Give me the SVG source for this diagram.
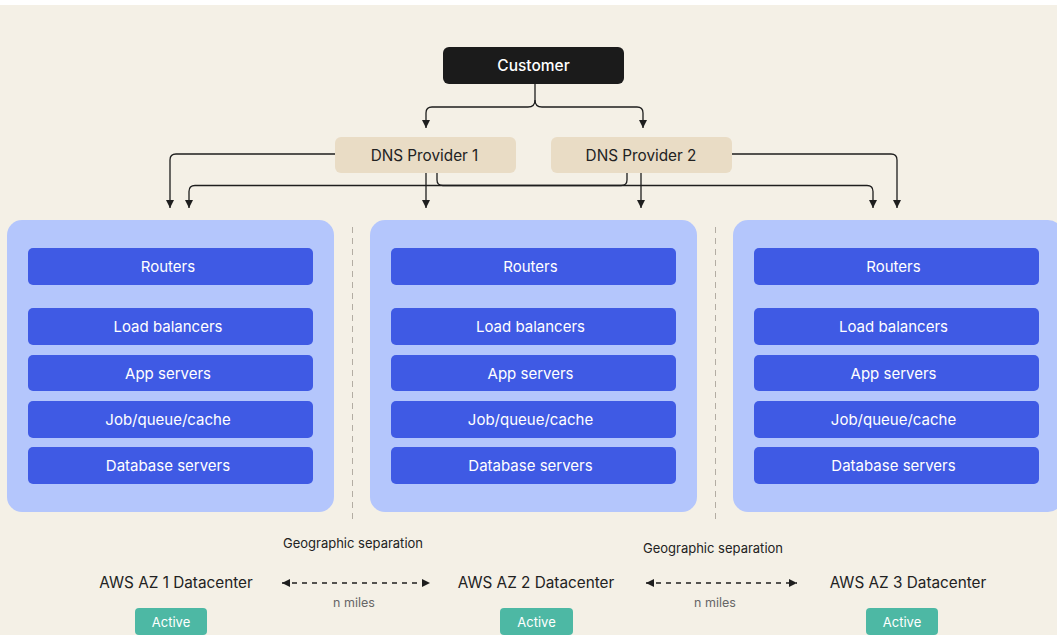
<svg xmlns="http://www.w3.org/2000/svg" width="1057" height="635" viewBox="0 0 1057 635">
<defs>
<style>
text{font-family:Inter,"Liberation Sans",sans-serif;text-anchor:middle;dominant-baseline:central}
.bar{fill:#3F5AE4}
.bt{fill:#fff;font-size:15px}
.az{fill:#B4C6FC}
.dns{fill:#E9DCC5}
.con{fill:none;stroke:#1e1e1e;stroke-width:1.3}
.lbl{fill:#222;font-size:15.3px}
.sm{fill:#222;font-size:13px}
.gray{fill:#666;font-size:12.5px}
.act{fill:#4DB8A4}
.div{stroke:#B3ADA3;stroke-width:1;stroke-dasharray:6 5}
</style>
<marker id="ah" viewBox="0 0 10 10" refX="10" refY="5" markerWidth="8" markerHeight="8" markerUnits="userSpaceOnUse" orient="auto"><path d="M0,0L10,5L0,10z" fill="#1e1e1e"/></marker>
<marker id="ah2" viewBox="0 0 10 10" refX="10" refY="5" markerWidth="8" markerHeight="8" markerUnits="userSpaceOnUse" orient="auto-start-reverse"><path d="M0,0L10,5L0,10z" fill="#1e1e1e"/></marker>
</defs>
<rect x="0" y="0" width="1057" height="635" fill="#fff"/>
<rect x="0" y="5" width="1057" height="630" fill="#F4F0E6"/>

<g id="customer"><rect x="443" y="47" width="181" height="37" rx="6" fill="#1B1B1B"/><text x="533.5" y="65.5" fill="#fff" font-size="15.5" font-weight="500">Customer</text></g>
<g id="dns1"><rect class="dns" x="335" y="137" width="181" height="36" rx="6"/><text class="lbl" x="424.5" y="155">DNS Provider 1</text></g>
<g id="dns2"><rect class="dns" x="551" y="137" width="181" height="36" rx="6"/><text class="lbl" x="641" y="155">DNS Provider 2</text></g>

<g id="az1"><rect class="az" x="7" y="220" width="327" height="292" rx="15"/>
<rect class="bar" x="28" y="248" width="285" height="37" rx="5"/><text class="bt" x="168" y="266.5">Routers</text>
<rect class="bar" x="28" y="308" width="285" height="37" rx="5"/><text class="bt" x="168" y="326.5">Load balancers</text>
<rect class="bar" x="28" y="355" width="285" height="36" rx="5"/><text class="bt" x="168" y="373">App servers</text>
<rect class="bar" x="28" y="401" width="285" height="37" rx="5"/><text class="bt" x="168" y="419.5">Job/queue/cache</text>
<rect class="bar" x="28" y="447" width="285" height="37" rx="5"/><text class="bt" x="168" y="465.5">Database servers</text>
</g>
<g id="az2"><rect class="az" x="370" y="220" width="327" height="292" rx="15"/>
<rect class="bar" x="391" y="248" width="285" height="37" rx="5"/><text class="bt" x="530.5" y="266.5">Routers</text>
<rect class="bar" x="391" y="308" width="285" height="37" rx="5"/><text class="bt" x="530.5" y="326.5">Load balancers</text>
<rect class="bar" x="391" y="355" width="285" height="36" rx="5"/><text class="bt" x="530.5" y="373">App servers</text>
<rect class="bar" x="391" y="401" width="285" height="37" rx="5"/><text class="bt" x="530.5" y="419.5">Job/queue/cache</text>
<rect class="bar" x="391" y="447" width="285" height="37" rx="5"/><text class="bt" x="530.5" y="465.5">Database servers</text>
</g>
<g id="az3"><rect class="az" x="733" y="220" width="330" height="292" rx="15"/>
<rect class="bar" x="754" y="248" width="285" height="37" rx="5"/><text class="bt" x="893.5" y="266.5">Routers</text>
<rect class="bar" x="754" y="308" width="285" height="37" rx="5"/><text class="bt" x="893.5" y="326.5">Load balancers</text>
<rect class="bar" x="754" y="355" width="285" height="36" rx="5"/><text class="bt" x="893.5" y="373">App servers</text>
<rect class="bar" x="754" y="401" width="285" height="37" rx="5"/><text class="bt" x="893.5" y="419.5">Job/queue/cache</text>
<rect class="bar" x="754" y="447" width="285" height="37" rx="5"/><text class="bt" x="893.5" y="465.5">Database servers</text>
</g>

<g id="dividers">
<line class="div" x1="352.5" y1="227" x2="352.5" y2="524"/>
<line class="div" x1="715.5" y1="227" x2="715.5" y2="524"/>
</g>

<g id="connectors">
<path class="con" d="M535,84V100Q535,107 528,107H432Q426,107 426,113V128" marker-end="url(#ah)"/>
<path class="con" d="M535,100Q535,107 542,107H637Q643,107 643,113V128" marker-end="url(#ah)"/>
<path class="con" d="M335,154H176Q170,154 170,160V208" marker-end="url(#ah)"/>
<path class="con" d="M426,173V208" marker-end="url(#ah)"/>
<path class="con" d="M437,173V180Q437,185.5 443,185.5H867Q873,185.5 873,191.5V208" marker-end="url(#ah)"/>
<path class="con" d="M627,173V180Q627,185.5 621,185.5H195Q189,185.5 189,191.5V208" marker-end="url(#ah)"/>
<path class="con" d="M641,173V208" marker-end="url(#ah)"/>
<path class="con" d="M732,154H891Q897,154 897,160V208" marker-end="url(#ah)"/>
<path class="con" d="M282,583H430" stroke-dasharray="5 5" marker-start="url(#ah2)" marker-end="url(#ah2)"/>
<path class="con" d="M646,583H797" stroke-dasharray="5 5" marker-start="url(#ah2)" marker-end="url(#ah2)"/>
</g>

<g id="labels">
<text class="sm" x="353" y="543">Geographic separation</text>
<text class="sm" x="713" y="548">Geographic separation</text>
<text class="gray" x="354" y="602">n miles</text>
<text class="gray" x="715" y="602">n miles</text>
</g>
<g id="dc1"><text class="lbl" x="176" y="582">AWS AZ 1 Datacenter</text><rect class="act" x="135" y="608" width="72" height="27" rx="4"/><text x="171" y="622" fill="#fff" font-size="13">Active</text></g>
<g id="dc2"><text class="lbl" x="536" y="582">AWS AZ 2 Datacenter</text><rect class="act" x="500" y="608" width="73" height="27" rx="4"/><text x="536.5" y="622" fill="#fff" font-size="13">Active</text></g>
<g id="dc3"><text class="lbl" x="908" y="582">AWS AZ 3 Datacenter</text><rect class="act" x="866" y="608" width="72" height="27" rx="4"/><text x="902" y="622" fill="#fff" font-size="13">Active</text></g>
</svg>
